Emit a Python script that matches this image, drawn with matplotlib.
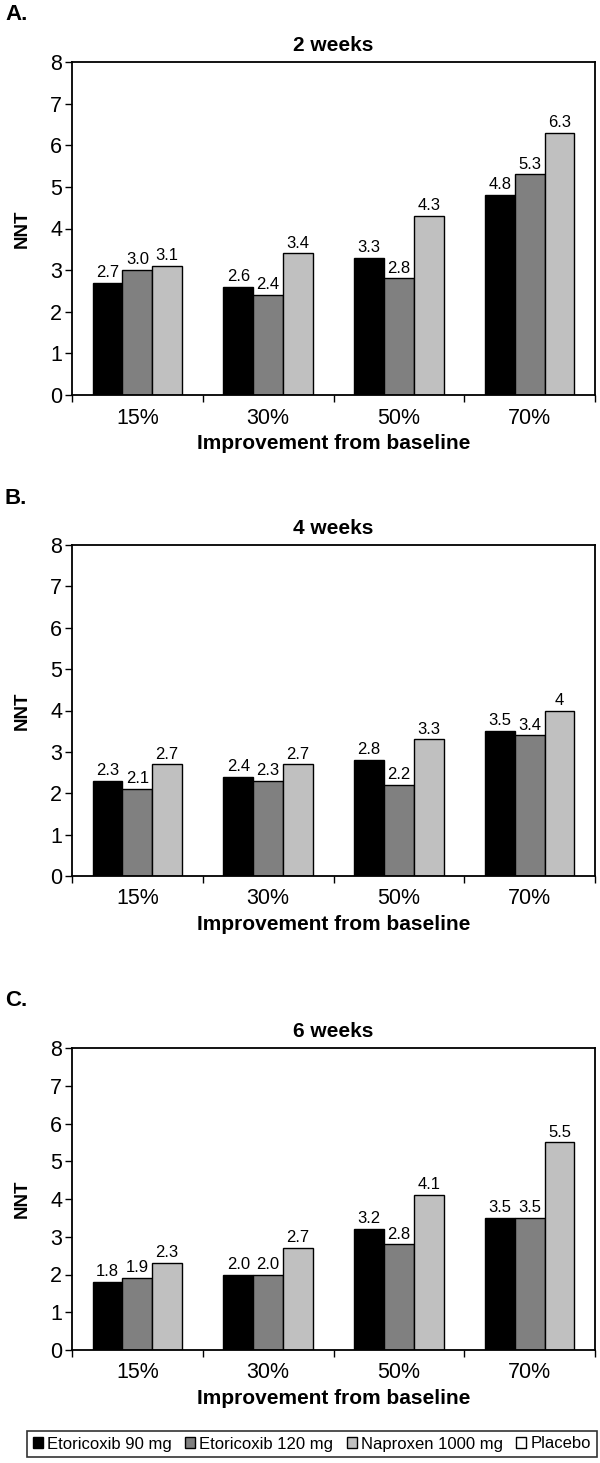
import numpy as np
import matplotlib
matplotlib.use('Agg')
import matplotlib.pyplot as plt
from matplotlib.patches import Patch

plt.rcParams['font.family'] = ['Liberation Sans', 'DejaVu Sans']

categories = ['15%', '30%', '50%', '70%']
series_names = ['Etoricoxib 90 mg', 'Etoricoxib 120 mg', 'Naproxen 1000 mg', 'Placebo']
colors = ['#000000', '#808080', '#c0c0c0', '#ffffff']

panel_letters = ['A.', 'B.', 'C.']
panel_titles = ['2 weeks', '4 weeks', '6 weeks']

# values per panel: etoricoxib 90, etoricoxib 120, naproxen
eto90 = [[2.7, 2.6, 3.3, 4.8], [2.3, 2.4, 2.8, 3.5], [1.8, 2.0, 3.2, 3.5]]
eto120 = [[3.0, 2.4, 2.8, 5.3], [2.1, 2.3, 2.2, 3.4], [1.9, 2.0, 2.8, 3.5]]
napro = [[3.1, 3.4, 4.3, 6.3], [2.7, 2.7, 3.3, 4.0], [2.3, 2.7, 4.1, 5.5]]
napro_labels = [['3.1', '3.4', '4.3', '6.3'], ['2.7', '2.7', '3.3', '4'], ['2.3', '2.7', '4.1', '5.5']]

W, H = 600, 1463
fig = plt.figure(figsize=(W / 100, H / 100), dpi=100)

# axes boxes in pixels: (top, bottom)
boxes = [(62, 395), (545, 876), (1048, 1350)]
left_px, right_px = 72, 595

x = np.arange(len(categories))
bw = 0.228

for p in range(3):
    top, bot = boxes[p]
    ax = fig.add_axes([left_px / W, (H - bot) / H, (right_px - left_px) / W, (bot - top) / H])
    vals = [eto90[p], eto120[p], napro[p]]
    labs = [['%.1f' % v for v in eto90[p]], ['%.1f' % v for v in eto120[p]], napro_labels[p]]
    for s in range(3):
        bars = ax.bar(x + (s - 1) * bw, vals[s], bw, color=colors[s], edgecolor='black', linewidth=1)
        ax.bar_label(bars, labels=labs[s], padding=2, fontsize=12)
    ax.set_xlim(-0.5, 3.5)
    ax.set_ylim(0, 8)
    ax.set_yticks(range(0, 9))
    ax.set_xticks(np.arange(-0.5, 4, 1))
    ax.set_xticklabels([])
    ax.set_xticks(x, minor=True)
    ax.set_xticklabels(categories, minor=True, fontsize=15.5)
    ax.tick_params(axis='x', which='minor', length=0, pad=9)
    ax.tick_params(axis='x', which='major', length=5, width=1)
    ax.tick_params(axis='y', labelsize=15.5, length=5, width=1, pad=2)
    for sp in ax.spines.values():
        sp.set_linewidth(1.3)
    ax.set_xlabel('Improvement from baseline', fontsize=15, fontweight='bold', labelpad=4)
    ax.set_ylabel('NNT', fontsize=13.5, fontweight='bold', labelpad=14)
    ax.set_title(panel_titles[p], fontsize=15, fontweight='bold', pad=8)
    fig.text(5 / W, 1 - (top - 47) / H, panel_letters[p], fontsize=16, fontweight='bold', va='center', ha='left')

handles = [Patch(facecolor=c, edgecolor='black', linewidth=1) for c in colors]
leg = fig.legend(handles, series_names, loc='center', bbox_to_anchor=(312 / W, 1 - 1444 / H),
                 ncol=4, fontsize=12, frameon=True, fancybox=False, edgecolor='black',
                 handlelength=0.6, handleheight=0.6, handletextpad=0.25, columnspacing=0.8,
                 borderpad=0.35, borderaxespad=0)
leg.get_frame().set_linewidth(1.2)

fig.savefig('out.png', dpi=100, facecolor='white')
